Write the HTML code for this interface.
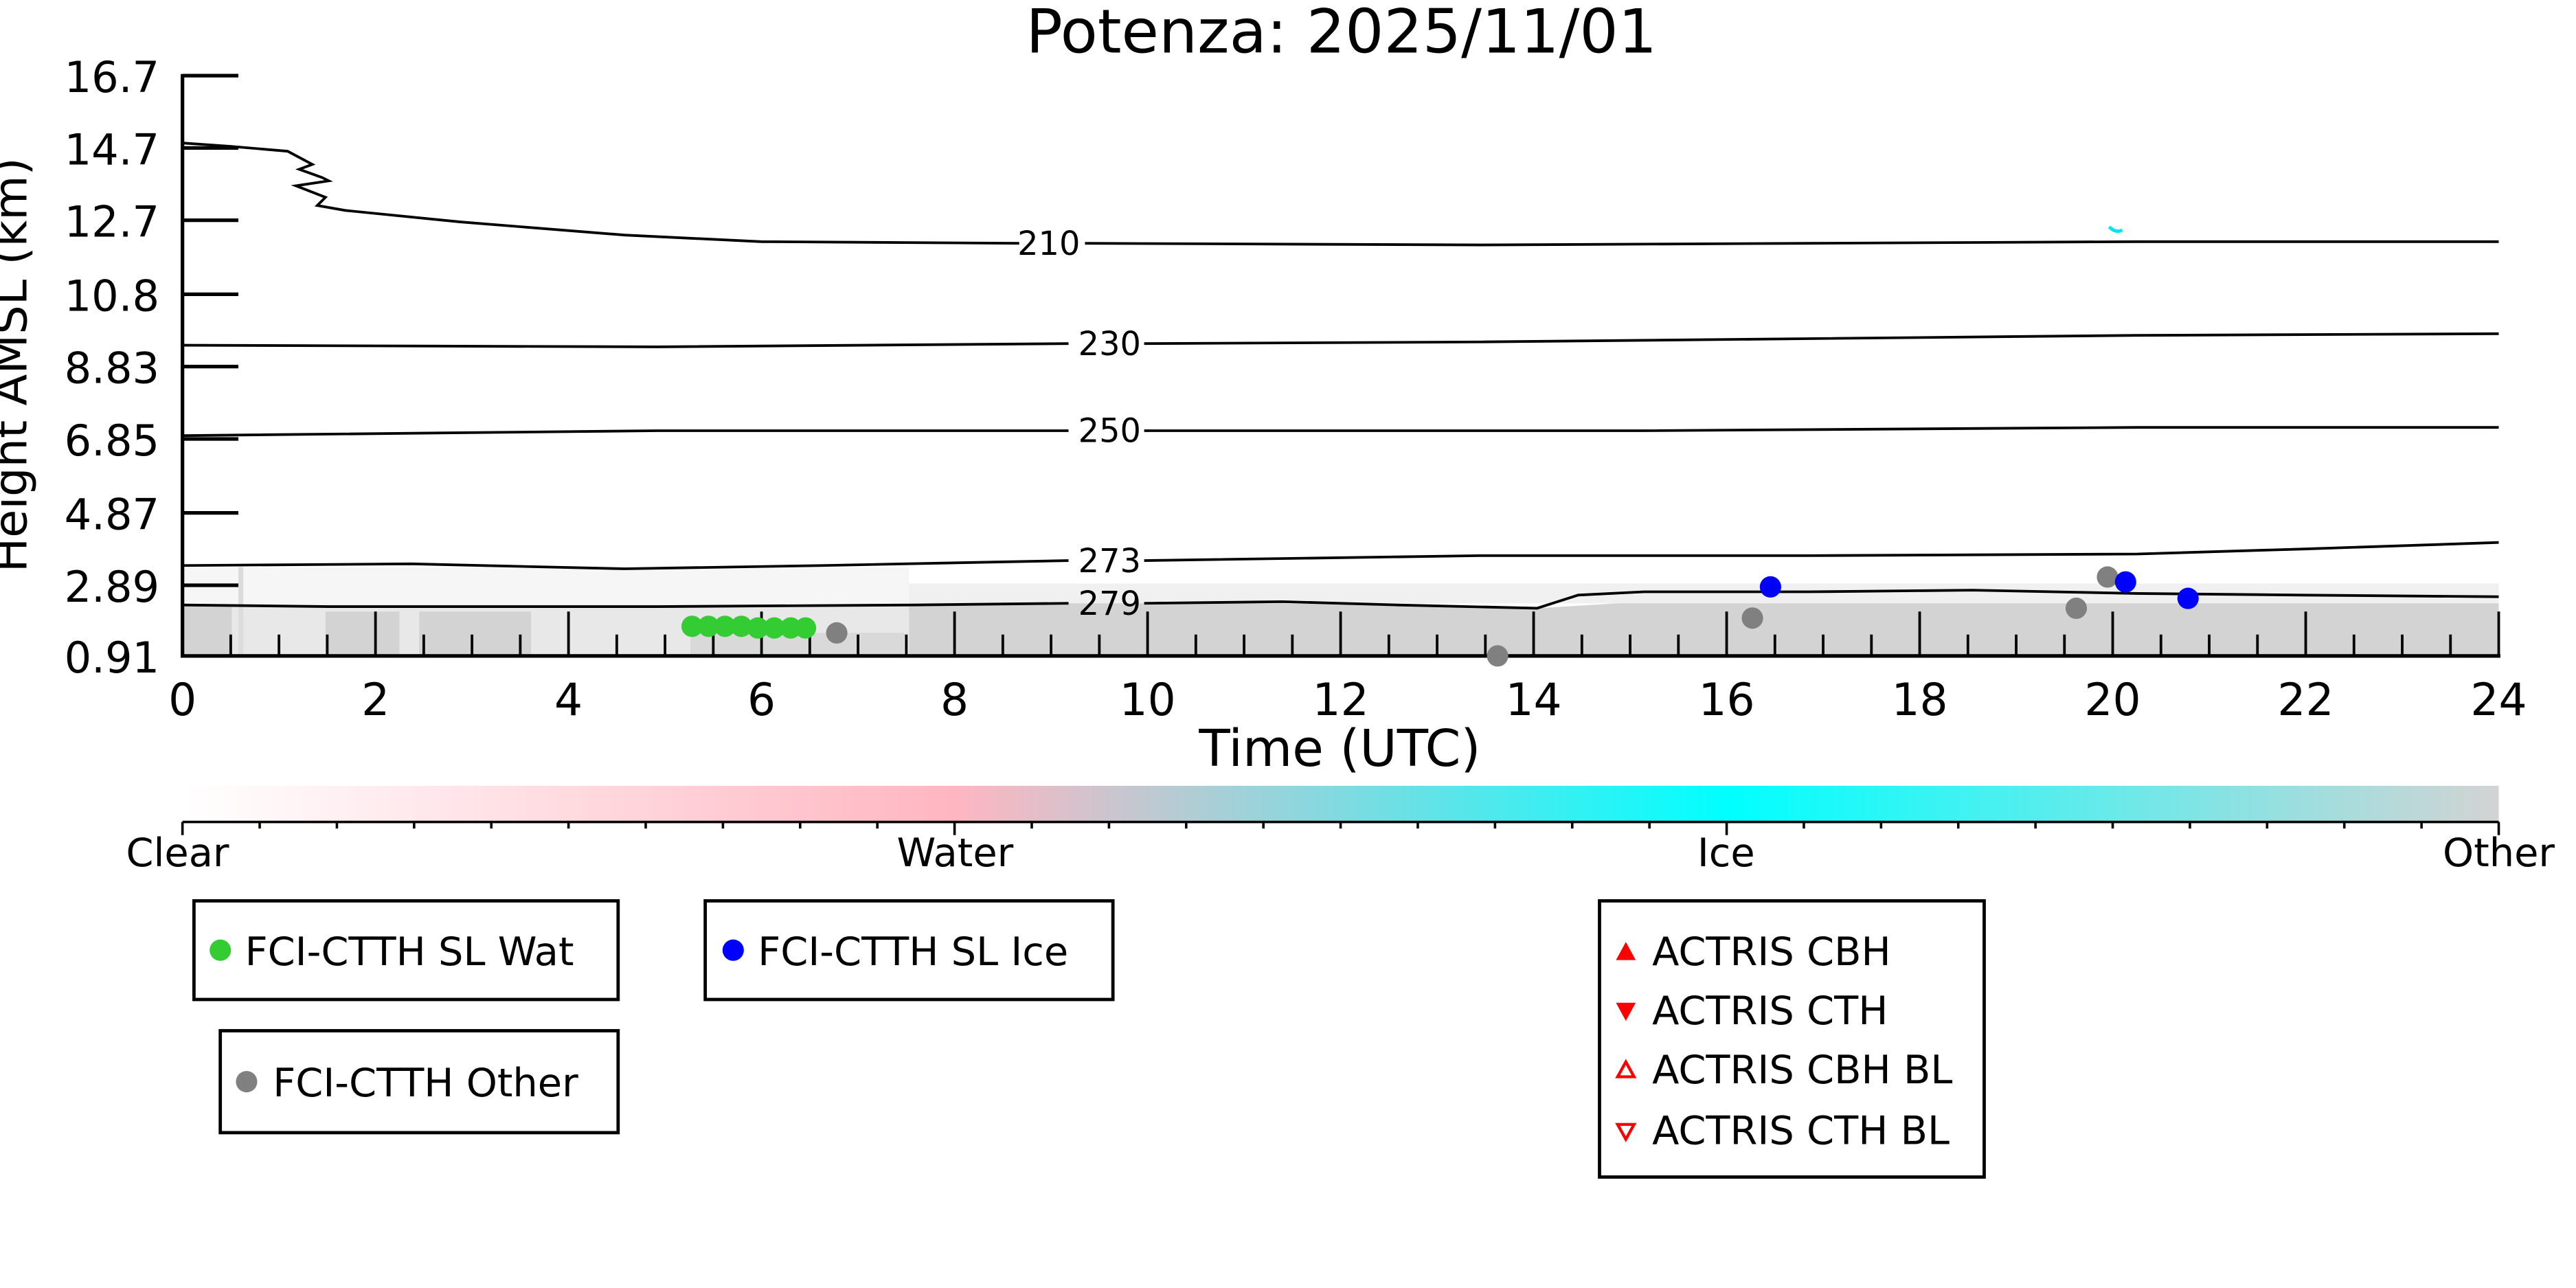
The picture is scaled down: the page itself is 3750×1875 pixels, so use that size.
<!DOCTYPE html>
<html><head><meta charset="utf-8"><style>html,body{margin:0;padding:0;background:#fff}svg{display:block}</style></head>
<body>
<svg width="3750" height="1875" viewBox="0 0 1567 783.5" xmlns="http://www.w3.org/2000/svg" font-family="DejaVu Sans, sans-serif">
<defs>
<linearGradient id="cb" x1="0" x2="1" y1="0" y2="0">
<stop offset="0" stop-color="#ffffff"/>
<stop offset="0.333" stop-color="#ffb6c1"/>
<stop offset="0.667" stop-color="#00ffff"/>
<stop offset="1" stop-color="#d3d3d3"/>
</linearGradient>
</defs>
<text x="816" y="32" font-size="37" text-anchor="middle">Potenza: 2025/11/01</text>
<rect x="111" y="345" width="442" height="54" fill="#f6f6f6"/>
<rect x="111" y="368" width="442" height="31" fill="#e8e8e8"/>
<rect x="111" y="368" width="30" height="31" fill="#d3d3d3"/>
<rect x="145" y="345" width="3" height="54" fill="#dcdcdc"/>
<rect x="198" y="372" width="45" height="27" fill="#d3d3d3"/>
<rect x="255" y="372" width="68" height="27" fill="#d3d3d3"/>
<rect x="420" y="385" width="130" height="14" fill="#d9d9d9"/>
<path d="M553 368 L700 366 L850 368 L935 370 L1000 366 L1100 364 L1250 366 L1520 364 L1520 399 L553 399Z" fill="#d3d3d3"/>
<rect x="553" y="355" width="967" height="12" fill="#f0f0f0"/>
<g fill="none" stroke="#000" stroke-width="1.6">
<path d="M111 87 L140 89 L175 92 L190 100 L182 103 L196 108 L200 110 L180 113 L198 120 L193 125 L210 128 L280 135 L380 143 L463 147 L620 148"/>
<path d="M660 148 L900 149 L1100 148 L1300 147 L1520 147"/>
<path d="M111 210 L400 211 L650 209"/>
<path d="M696 209 L900 208 L1100 206 L1300 204 L1520 203"/>
<path d="M111 265 L400 262 L650 262"/>
<path d="M696 262 L1000 262 L1300 260 L1520 260"/>
<path d="M111 344 L250 343 L380 346 L500 344 L650 341"/>
<path d="M696 341 L900 338 L1100 338 L1300 337 L1400 334 L1520 330"/>
<path d="M111 368 L200 369 L400 369 L555 368 L650 367"/>
<path d="M696 367 L780 366 L850 368 L935 370 L960 362 L1000 360 L1100 360 L1200 359 L1300 361 L1400 362 L1520 363"/>
</g>
<g font-size="20" text-anchor="middle">
<text x="638" y="155">210</text><text x="675" y="216">230</text><text x="675" y="269">250</text><text x="675" y="348">273</text><text x="675" y="374">279</text>
</g>
<path d="M1283 138 q4 4 8 2" stroke="#00e5ee" stroke-width="2" fill="none"/>
<g stroke="#000" stroke-width="2.2">
<line x1="111" y1="45" x2="111" y2="400"/>
<line x1="110" y1="399" x2="1521" y2="399"/>
<line x1="111" y1="46" x2="145" y2="46"/><line x1="111" y1="90" x2="145" y2="90"/><line x1="111" y1="134" x2="145" y2="134"/><line x1="111" y1="179" x2="145" y2="179"/><line x1="111" y1="223" x2="145" y2="223"/><line x1="111" y1="267" x2="145" y2="267"/><line x1="111" y1="312" x2="145" y2="312"/><line x1="111" y1="356" x2="145" y2="356"/>
</g>
<g stroke="#000" stroke-width="1.6" id="xt"></g>
<g font-size="26" text-anchor="end">
<text x="97" y="56">16.7</text><text x="97" y="100">14.7</text><text x="97" y="144">12.7</text><text x="97" y="189">10.8</text><text x="97" y="233">8.83</text><text x="97" y="277">6.85</text><text x="97" y="322">4.87</text><text x="97" y="366">2.89</text><text x="97" y="409">0.91</text>
</g>
<g font-size="27" text-anchor="middle" id="xl"></g>
<text x="815" y="466" font-size="31" text-anchor="middle">Time (UTC)</text>
<text transform="translate(16,222) rotate(-90)" font-size="28" text-anchor="middle">Height AMSL (km)</text>
<g fill="#33cc33">
<circle cx="421" cy="381" r="6.5"/><circle cx="431" cy="381" r="6.5"/><circle cx="441" cy="381" r="6.5"/><circle cx="451" cy="381" r="6.5"/><circle cx="461" cy="382" r="6.5"/><circle cx="471" cy="382" r="6.5"/><circle cx="481" cy="382" r="6.5"/><circle cx="490" cy="382" r="6.5"/>
</g>
<g fill="#808080">
<circle cx="509" cy="385" r="6.5"/><circle cx="911" cy="399" r="6.5"/><circle cx="1066" cy="376" r="6.5"/><circle cx="1263" cy="370" r="6.5"/><circle cx="1282" cy="351" r="6.5"/>
</g>
<g fill="#0000ff">
<circle cx="1077" cy="357" r="6.5"/><circle cx="1293" cy="354" r="6.5"/><circle cx="1331" cy="364" r="6.5"/>
</g>
<rect x="111" y="478" width="1409" height="22" fill="url(#cb)"/>
<line x1="111" y1="500" x2="1520" y2="500" stroke="#000" stroke-width="1.5"/>
<g stroke="#000" stroke-width="1.5" id="ct"></g>
<g font-size="24" text-anchor="middle">
<text x="108" y="527">Clear</text><text x="581" y="527">Water</text><text x="1050" y="527">Ice</text><text x="1520" y="527">Other</text>
</g>
<g fill="none" stroke="#000" stroke-width="2">
<rect x="118" y="548" width="258" height="60"/>
<rect x="429" y="548" width="248" height="60"/>
<rect x="134" y="627" width="242" height="62"/>
<rect x="973" y="548" width="234" height="168"/>
</g>
<g font-size="24">
<circle cx="134" cy="578" r="6.5" fill="#33cc33"/><text x="149" y="587">FCI-CTTH SL Wat</text>
<circle cx="446" cy="578" r="6.5" fill="#0000ff"/><text x="461" y="587">FCI-CTTH SL Ice</text>
<circle cx="150" cy="658" r="6.5" fill="#808080"/><text x="166" y="667">FCI-CTTH Other</text>
<path d="M983 584 L989 573 L995 584Z" fill="#ff0000"/><text x="1005" y="587">ACTRIS CBH</text>
<path d="M983 610 L995 610 L989 621Z" fill="#ff0000"/><text x="1005" y="623">ACTRIS CTH</text>
<path d="M984 655 L989 646 L994 655Z" fill="none" stroke="#ff0000" stroke-width="1.8"/><text x="1005" y="659">ACTRIS CBH BL</text>
<path d="M984 684 L994 684 L989 693Z" fill="none" stroke="#ff0000" stroke-width="1.8"/><text x="1005" y="696">ACTRIS CTH BL</text>
</g>
<script>
var ns="http://www.w3.org/2000/svg",xt=document.getElementById("xt"),xl=document.getElementById("xl"),ct=document.getElementById("ct");
for(var i=0;i<=48;i++){var x=111+i*1409/48;var l=document.createElementNS(ns,"line");l.setAttribute("x1",x);l.setAttribute("x2",x);l.setAttribute("y1",i%4==0?372:386);l.setAttribute("y2",399);xt.appendChild(l);
if(i%4==0){var t=document.createElementNS(ns,"text");t.setAttribute("x",x);t.setAttribute("y",435);t.textContent=i/2;xl.appendChild(t);}}
for(var j=0;j<=30;j++){var x=111+j*1409/30;var l=document.createElementNS(ns,"line");l.setAttribute("x1",x);l.setAttribute("x2",x);l.setAttribute("y1",500);l.setAttribute("y2",j%10==0?508:504);ct.appendChild(l);}
</script>
</svg>
</body></html>
